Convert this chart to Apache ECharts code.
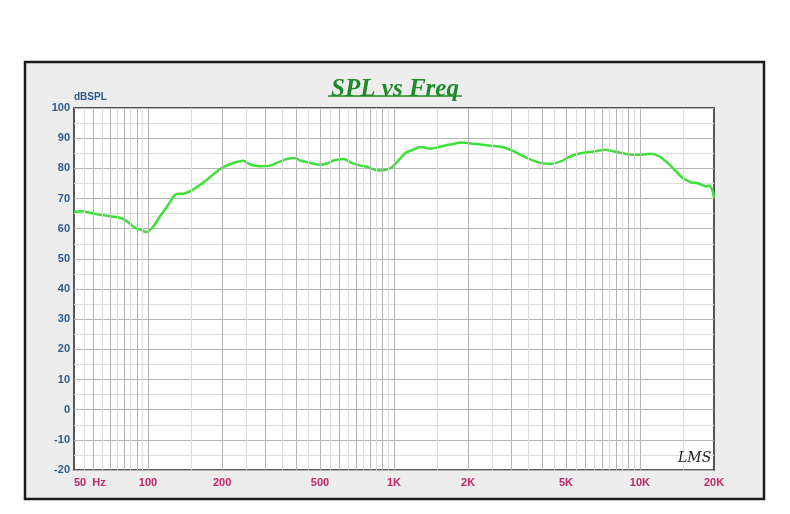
<!DOCTYPE html>
<html>
<head>
<meta charset="utf-8">
<title>SPL vs Freq</title>
<script src="https://cdn.jsdelivr.net/npm/echarts@6/dist/echarts.min.js"></script>
<style>
    html, body { margin: 0; padding: 0; background: #fff; }
    #chart { width: 790px; height: 514px; }
</style>
</head>
<body>
<div id="chart"></div>
<script>
// frequency (Hz) / level (dB SPL)
var freqs = [50, 50.5, 53.7, 59.9, 70.1, 77, 82, 88.6, 94.3, 98.3, 100.4, 105.2, 112, 121, 126.9, 131, 139.3,
    153, 173.5, 196.6, 219.3, 244.6, 252.5, 264.6, 285.9, 314, 345.2, 367.3, 397, 416.1, 457.2, 501.9,
    534.5, 568.6, 624.5, 665, 730.5, 765.5, 827.6, 881.1, 967.8, 1014, 1113, 1186, 1282, 1408, 1522,
    1698, 1894, 2048, 2250, 2471, 2757, 3074, 3486, 3948, 4337, 4761, 5228, 5745, 6508, 7262, 7848,
    8624, 9472, 10084, 11078, 11972, 12948, 14000, 14910, 16112, 17415, 18549, 19131, 19750, 20000];
var spl = [65.5, 65.6, 65.8, 65.0, 64.1, 63.6, 62.5, 60.3, 59.5, 58.9, 59.1, 60.8, 64.1, 68.0, 70.7, 71.5, 71.6,
    73.0, 76.2, 79.8, 81.6, 82.5, 81.8, 81.1, 80.7, 80.9, 82.3, 83.1, 83.4, 82.6, 81.8, 81.2,
    81.6, 82.6, 83.1, 82.0, 80.9, 80.7, 79.6, 79.3, 80.1, 81.5, 85.1, 86.0, 87.1, 86.5, 87.1,
    87.9, 88.6, 88.2, 87.9, 87.5, 87.1, 85.6, 83.4, 81.8, 81.5, 82.3, 84.0, 85.0, 85.6, 86.2, 85.6,
    84.9, 84.5, 84.5, 84.8, 84.0, 81.8, 79.0, 76.8, 75.4, 74.9, 74.0, 74.3, 72.4, 70.2];

var xLabels = [50, 100, 200, 500, 1000, 2000, 5000, 10000, 20000];

// vertical log grid lines
var gridMajor = [60, 70, 80, 90, 100, 200, 300, 400, 500, 600, 700, 800, 900,
    1000, 2000, 3000, 4000, 5000, 6000, 7000, 8000, 9000, 10000];
var gridMinor = [55, 65, 75, 85, 95, 150, 250, 350, 450, 550, 650, 750, 850, 950,
    1500, 2500, 3500, 4500, 5500, 6500, 7500, 8500, 9500, 15000];

var chart = echarts.init(document.getElementById('chart'));

function vLines(vals, color) {
    return vals.map(function (v) {
        return { xAxis: v, lineStyle: { color: color, width: 1, type: 'solid' } };
    });
}

chart.setOption({
    backgroundColor: '#fff',
    animation: false,
    title: [{
        text: 'SPL vs Freq',
        left: 'center',
        top: 72,
        textStyle: {
            fontFamily: 'Liberation Serif',
            fontStyle: 'italic',
            fontWeight: 'bold',
            fontSize: 25,
            color: '#1f8a2a'
        }
    }, {
        text: 'LMS',
        left: 673,
        top: 446,
        textStyle: {
            fontFamily: 'DejaVu Serif',
            fontStyle: 'italic',
            fontWeight: 'normal',
            fontSize: 14,
            color: '#222'
        }
    }],
    graphic: [{
        type: 'rect',
        z: -10,
        shape: { x: 25, y: 62, width: 739, height: 437 },
        style: { fill: '#ededed', stroke: '#1c1c1c', lineWidth: 2.5 }
    }, {
        type: 'line',
        z: 10,
        shape: { x1: 328, y1: 96, x2: 462, y2: 96 },
        style: { stroke: '#1f8a2a', lineWidth: 1.5 }
    }],
    grid: {
        left: 74,
        right: 76,
        top: 108,
        bottom: 44,
        show: true,
        backgroundColor: '#fff',
        borderColor: '#222',
        borderWidth: 1.5
    },
    xAxis: {
        type: 'log',
        logBase: 10,
        min: 50,
        max: 20000,
        axisLine: { show: false },
        axisTick: { show: false },
        splitLine: { show: false },
        axisLabel: {
            customValues: xLabels,
            margin: 7,
            color: '#c4246a',
            fontFamily: 'Liberation Sans',
            fontWeight: 'bold',
            fontSize: 11,
            alignMinLabel: 'left',
            formatter: function (v) {
                if (v === 50) return '50  Hz';
                if (v >= 1000) return (v / 1000) + 'K';
                return String(v);
            }
        }
    },
    yAxis: {
        type: 'value',
        name: 'dBSPL',
        nameLocation: 'end',
        nameGap: 5,
        nameTextStyle: {
            align: 'left',
            color: '#2b5b8c',
            fontFamily: 'Liberation Sans',
            fontWeight: 'bold',
            fontSize: 10
        },
        min: -20,
        max: 100,
        interval: 10,
        axisLine: { show: false },
        axisTick: { show: false },
        axisLabel: {
            margin: 4,
            color: '#2b5b8c',
            fontFamily: 'Liberation Sans',
            fontWeight: 'bold',
            fontSize: 11
        },
        splitLine: { show: true, lineStyle: { color: '#b4b4b4', width: 1 } },
        minorTick: { show: false, splitNumber: 2 },
        minorSplitLine: { show: true, lineStyle: { color: '#dcdcdc', width: 1 } }
    },
    series: [{
        type: 'line',
        name: 'grid',
        z: 1,
        silent: true,
        data: [],
        markLine: {
            silent: true,
            symbol: 'none',
            label: { show: false },
            animation: false,
            data: vLines(gridMinor, '#dcdcdc').concat(vLines(gridMajor, '#b4b4b4'))
        }
    }, {
        type: 'line',
        name: 'SPL',
        z: 3,
        smooth: 0.3,
        showSymbol: false,
        lineStyle: { color: '#3ee03a', width: 2.5 },
        data: freqs.map(function (f, i) { return [f, spl[i]]; })
    }]
});
</script>
</body>
</html>
